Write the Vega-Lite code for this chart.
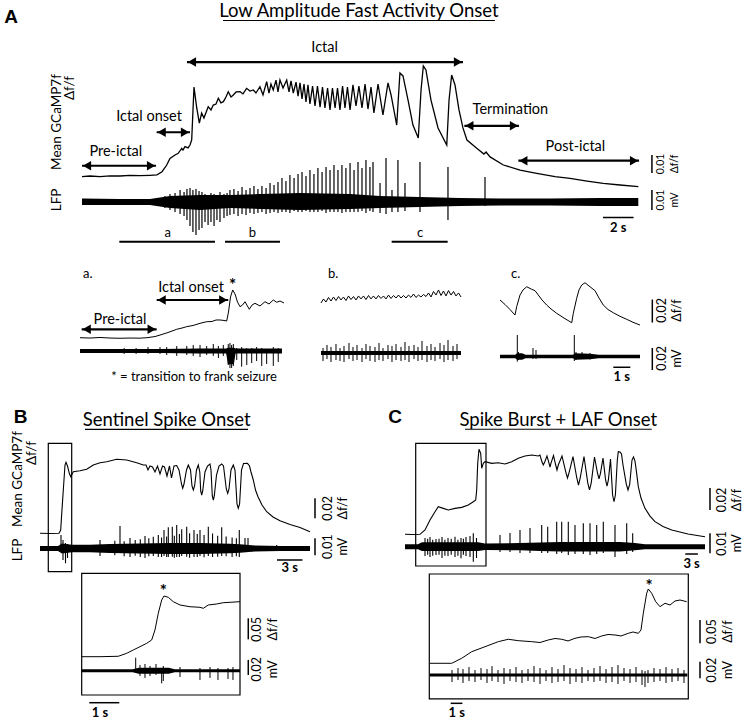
{
"$schema":"https://vega.github.io/schema/vega-lite/v6.json",
"padding":0,
"background":"white",
"spacing":0,
"bounds":"flush",
"config":{"view":{"stroke":null},"text":{"font":"Lato","color":"#000"},"line":{"color":"#000"},"rule":{"color":"#000"},"area":{"color":"#000"}},
"datasets":{
"Ag":[{"t":0,"v":-0.0003},{"t":0.52,"v":0},{"t":1.18,"v":-0.0003},{"t":1.83,"v":0.0001},{"t":2.48,"v":0},{"t":3.14,"v":0.0003},{"t":3.79,"v":0.0002},{"t":4.44,"v":0.0004},{"t":4.9,"v":0.0006},{"t":5.23,"v":0.0024},{"t":5.54,"v":0.0061},{"t":5.75,"v":0.0098},{"t":6.08,"v":0.0117},{"t":6.29,"v":0.0126},{"t":6.52,"v":0.0154},{"t":6.6,"v":0.0144},{"t":6.73,"v":0.0163},{"t":6.93,"v":0.0156},{"t":7.06,"v":0.0172},{"t":7.17,"v":0.02},{"t":7.32,"v":0.0494},{"t":7.5,"v":0.0378},{"t":7.67,"v":0.0294},{"t":7.82,"v":0.035},{"t":7.97,"v":0.0322},{"t":8.25,"v":0.0385},{"t":8.43,"v":0.0367},{"t":8.58,"v":0.0394},{"t":8.76,"v":0.04},{"t":8.91,"v":0.0432},{"t":9.08,"v":0.0406},{"t":9.24,"v":0.0413},{"t":9.41,"v":0.0439},{"t":9.56,"v":0.0468},{"t":9.74,"v":0.0439},{"t":9.89,"v":0.045},{"t":10.07,"v":0.0467},{"t":10.33,"v":0.0468},{"t":10.52,"v":0.0456},{"t":10.76,"v":0.0487},{"t":10.98,"v":0.0472},{"t":11.2,"v":0.0478},{"t":11.37,"v":0.0461},{"t":11.63,"v":0.0496},{"t":11.83,"v":0.045},{"t":12.07,"v":0.0524},{"t":12.22,"v":0.0461},{"t":12.35,"v":0.0511},{"t":12.5,"v":0.0478},{"t":12.68,"v":0.0533},{"t":12.81,"v":0.0467},{"t":12.94,"v":0.0533},{"t":13.14,"v":0.0489},{"t":13.38,"v":0.0533},{"t":13.53,"v":0.0467},{"t":13.66,"v":0.0528},{"t":13.81,"v":0.0461},{"t":13.99,"v":0.0522},{"t":14.12,"v":0.0444},{"t":14.25,"v":0.0517},{"t":14.38,"v":0.0428},{"t":14.51,"v":0.0511},{"t":14.64,"v":0.0411},{"t":14.77,"v":0.0506},{"t":14.9,"v":0.04},{"t":15.07,"v":0.05},{"t":15.23,"v":0.0389},{"t":15.39,"v":0.05},{"t":15.56,"v":0.0383},{"t":15.72,"v":0.0494},{"t":15.88,"v":0.0378},{"t":16.05,"v":0.0489},{"t":16.21,"v":0.0367},{"t":16.37,"v":0.0489},{"t":16.54,"v":0.0378},{"t":16.7,"v":0.0489},{"t":16.86,"v":0.0367},{"t":17.03,"v":0.05},{"t":17.19,"v":0.0378},{"t":17.35,"v":0.0494},{"t":17.52,"v":0.0367},{"t":17.71,"v":0.0506},{"t":17.91,"v":0.0389},{"t":18.1,"v":0.05},{"t":18.3,"v":0.0378},{"t":18.5,"v":0.0511},{"t":18.69,"v":0.0372},{"t":18.89,"v":0.0494},{"t":19.08,"v":0.035},{"t":19.35,"v":0.0511},{"t":19.67,"v":0.0339},{"t":20,"v":0.0517},{"t":20.2,"v":0.045},{"t":20.57,"v":0.0283},{"t":20.78,"v":0.0572},{"t":20.98,"v":0.0556},{"t":21.31,"v":0.0422},{"t":21.63,"v":0.0283},{"t":21.98,"v":0.0211},{"t":22.16,"v":0.0478},{"t":22.31,"v":0.0611},{"t":22.48,"v":0.0589},{"t":22.81,"v":0.0422},{"t":23.27,"v":0.0267},{"t":23.84,"v":0.0172},{"t":23.99,"v":0.0422},{"t":24.16,"v":0.0561},{"t":24.38,"v":0.0506},{"t":24.64,"v":0.0367},{"t":24.9,"v":0.0267},{"t":25.16,"v":0.02},{"t":25.8,"v":0.0154},{"t":26.27,"v":0.0122},{"t":26.41,"v":0.0133},{"t":26.67,"v":0.0106},{"t":27.54,"v":0.0061},{"t":28.63,"v":0.0033},{"t":29.72,"v":0.0015},{"t":30.92,"v":-0.0003},{"t":31.9,"v":-0.0013},{"t":33.01,"v":-0.0028},{"t":34.07,"v":-0.0041},{"t":35.16,"v":-0.005},{"t":36.36,"v":-0.0059}],
"Al_env":[{"t":0,"hi":0.00175,"lo":-0.0015},{"t":2.48,"hi":0.0015,"lo":-0.0015},{"t":4.44,"hi":0.0015,"lo":-0.0015},{"t":5.75,"hi":0.003,"lo":-0.003},{"t":7.71,"hi":0.0035,"lo":-0.004},{"t":9.67,"hi":0.0035,"lo":-0.003},{"t":11.63,"hi":0.004,"lo":-0.0035},{"t":14.25,"hi":0.0045,"lo":-0.004},{"t":17.52,"hi":0.004,"lo":-0.0035},{"t":19.48,"hi":0.003,"lo":-0.003},{"t":22.09,"hi":0.0025,"lo":-0.0025},{"t":24.71,"hi":0.002,"lo":-0.002},{"t":27.32,"hi":0.00175,"lo":-0.00175},{"t":30.59,"hi":0.00175,"lo":-0.00175},{"t":33.86,"hi":0.002,"lo":-0.002},{"t":36.36,"hi":0.002,"lo":-0.002}],
"Al_spk":[{"t":5.42,"hi":0.003,"lo":-0.003},{"t":5.75,"hi":0.004,"lo":-0.004},{"t":6.08,"hi":0.0045,"lo":-0.005},{"t":6.41,"hi":0.006,"lo":-0.006},{"t":6.67,"hi":0.005,"lo":-0.007},{"t":6.86,"hi":0.0065,"lo":-0.009},{"t":7.06,"hi":0.007,"lo":-0.012},{"t":7.25,"hi":0.006,"lo":-0.015},{"t":7.45,"hi":0.0065,"lo":-0.0165},{"t":7.65,"hi":0.0055,"lo":-0.014},{"t":7.84,"hi":0.005,"lo":-0.013},{"t":8.04,"hi":0.004,"lo":-0.01},{"t":8.24,"hi":0.0035,"lo":-0.0115},{"t":8.43,"hi":0.0045,"lo":-0.01},{"t":8.63,"hi":0.004,"lo":-0.012},{"t":8.82,"hi":0.0035,"lo":-0.009},{"t":9.02,"hi":0.005,"lo":-0.01},{"t":9.28,"hi":0.004,"lo":-0.008},{"t":9.48,"hi":0.0045,"lo":-0.007},{"t":9.67,"hi":0.006,"lo":-0.0065},{"t":9.93,"hi":0.0065,"lo":-0.006},{"t":10.2,"hi":0.0055,"lo":-0.007},{"t":10.46,"hi":0.0075,"lo":-0.006},{"t":10.72,"hi":0.006,"lo":-0.0065},{"t":10.98,"hi":0.007,"lo":-0.0055},{"t":11.24,"hi":0.008,"lo":-0.006},{"t":11.5,"hi":0.0065,"lo":-0.0055},{"t":11.76,"hi":0.008,"lo":-0.005},{"t":12.03,"hi":0.007,"lo":-0.006},{"t":12.29,"hi":0.0095,"lo":-0.0055},{"t":12.55,"hi":0.0085,"lo":-0.005},{"t":12.81,"hi":0.01,"lo":-0.0055},{"t":13.07,"hi":0.012,"lo":-0.005},{"t":13.33,"hi":0.0105,"lo":-0.005},{"t":13.59,"hi":0.0135,"lo":-0.0055},{"t":13.86,"hi":0.012,"lo":-0.0045},{"t":14.12,"hi":0.014,"lo":-0.005},{"t":14.38,"hi":0.015,"lo":-0.005},{"t":14.64,"hi":0.013,"lo":-0.0045},{"t":14.9,"hi":0.016,"lo":-0.005},{"t":15.16,"hi":0.014,"lo":-0.005},{"t":15.42,"hi":0.017,"lo":-0.005},{"t":15.69,"hi":0.015,"lo":-0.0045},{"t":15.95,"hi":0.0175,"lo":-0.0055},{"t":16.21,"hi":0.016,"lo":-0.005},{"t":16.47,"hi":0.0185,"lo":-0.005},{"t":16.73,"hi":0.016,"lo":-0.005},{"t":16.99,"hi":0.0185,"lo":-0.0055},{"t":17.25,"hi":0.017,"lo":-0.005},{"t":17.52,"hi":0.0195,"lo":-0.005},{"t":17.78,"hi":0.016,"lo":-0.005},{"t":18.04,"hi":0.02,"lo":-0.005},{"t":18.3,"hi":0.017,"lo":-0.0045},{"t":18.56,"hi":0.021,"lo":-0.0055},{"t":18.82,"hi":0.0175,"lo":-0.0045},{"t":19.02,"hi":0.02,"lo":-0.005},{"t":19.48,"hi":0.0095,"lo":-0.0055},{"t":19.87,"hi":0.022,"lo":-0.006},{"t":20.26,"hi":0.006,"lo":-0.005},{"t":20.65,"hi":0.021,"lo":-0.005},{"t":21.11,"hi":0.0095,"lo":-0.0045},{"t":22.09,"hi":0.02,"lo":-0.005},{"t":23.92,"hi":0.0175,"lo":-0.009},{"t":26.34,"hi":0.0125,"lo":-0.002}],
"A_arrows":[{"t1":6.86,"t2":24.9,"v":0.0633},{"t1":0,"t2":4.84,"v":0.0057},{"t1":4.88,"t2":7.06,"v":0.0243},{"t1":24.99,"t2":28.56,"v":0.0279},{"t1":28.52,"t2":36.41,"v":0.0085}],
"A_labels":[{"t":15.86,"v":0.0711,"label":"Ictal"},{"t":2.21,"v":0.0135,"label":"Pre-ictal"},{"t":4.38,"v":0.0326,"label":"Ictal onset"},{"t":28.0,"v":0.0367,"label":"Termination"},{"t":32.25,"v":0.0163,"label":"Post-ictal"}],
"A_title":[{"t":18.1,"v":0.0914,"label":"Low Amplitude Fast Activity Onset"}],
"A_letter":[{"t":-4.64,"v":0.0886,"label":"A"}],
"A_uline":[{"t1":9.22,"t2":26.99,"v":0.0864}],
"A_segs":[{"t1":2.44,"t2":8.69,"v":-0.0365,"tl":5.6,"vl":-0.0317,"label":"a"},{"t1":9.35,"t2":12.94,"v":-0.0365,"tl":11.14,"vl":-0.0317,"label":"b"},{"t1":20.24,"t2":23.9,"v":-0.0365,"tl":22.1,"vl":-0.0317,"label":"c"}],
"A_rotL":[{"t":-1.63,"v":0.03,"label":"Mean GCaMP7f"},{"t":-0.78,"v":0.0489,"label":"Δf/f"},{"t":-1.63,"v":-0.0133,"label":"LFP"}],
"A_sbg":[{"t":37.25,"v1":0.00167,"v2":0.01167,"tn":37.84,"tu":38.76,"vm":0.0067,"num":"0.01","unit":"Δf/f"}],
"A_sbl":[{"t":37.25,"v1":-0.004,"v2":0.006,"tn":37.84,"tu":38.76,"vm":0.001,"num":"0.01","unit":"mV"}],
"A_tb":[{"t1":34.05,"t2":36.05,"v":-0.00775,"tl":35.05,"vl":-0.013,"label":"2 s"}],
"Iag":[{"t":0,"v":0.002},{"t":0.588,"v":0.0017},{"t":1.176,"v":0.0022},{"t":1.765,"v":0.0017},{"t":2.353,"v":0.0015},{"t":2.941,"v":0.0017},{"t":3.529,"v":0.0016},{"t":3.941,"v":0.002},{"t":4.412,"v":0.003},{"t":4.706,"v":0.0043},{"t":5.176,"v":0.0065},{"t":5.688,"v":0.0093},{"t":6.0,"v":0.0104},{"t":6.276,"v":0.0116},{"t":6.647,"v":0.0126},{"t":7.059,"v":0.0145},{"t":7.453,"v":0.0159},{"t":7.765,"v":0.0161},{"t":8.0,"v":0.0174},{"t":8.235,"v":0.0174},{"t":8.471,"v":0.017},{"t":8.629,"v":0.0165},{"t":8.735,"v":0.0243},{"t":8.853,"v":0.0374},{"t":8.982,"v":0.0435},{"t":9.118,"v":0.04},{"t":9.265,"v":0.033},{"t":9.412,"v":0.029},{"t":9.559,"v":0.0304},{"t":9.706,"v":0.0333},{"t":9.959,"v":0.0267},{"t":10.118,"v":0.0304},{"t":10.294,"v":0.0319},{"t":10.588,"v":0.0296},{"t":10.882,"v":0.0333},{"t":11.118,"v":0.0313},{"t":11.371,"v":0.0348},{"t":11.571,"v":0.0328},{"t":11.765,"v":0.0339},{"t":12.0,"v":0.0322}],
"Ia_arrows":[{"t1":0.1,"t2":4.51,"v":0.0093},{"t1":4.51,"t2":8.72,"v":0.0348}],
"Ia_labels":[{"t":2.353,"v":0.0174,"label":"Pre-ictal"},{"t":6.53,"v":0.0452,"label":"Ictal onset"}],
"Ia_cap":[{"t":6.71,"v":-0.0324,"label":"* = transition to frank seizure"}],
"Ia_letter":[{"t":0.176,"v":0.0574,"label":"a."}],
"Ia_star":[{"t":8.98,"v":0.0507,"label":"*"}],
"Ial_env":[{"t":0,"hi":0.0018,"lo":-0.0018},{"t":4.7,"hi":0.0018,"lo":-0.0018},{"t":7.0,"hi":0.0023,"lo":-0.0023},{"t":8.6,"hi":0.0023,"lo":-0.0023},{"t":8.7,"hi":0.003,"lo":-0.012},{"t":9.05,"hi":0.003,"lo":-0.012},{"t":9.15,"hi":0.0023,"lo":-0.0023},{"t":11.88,"hi":0.0023,"lo":-0.0023}],
"Ial_spk":[{"t":2.6,"hi":0.0027,"lo":-0.0027},{"t":3.3,"hi":0.0027,"lo":-0.0027},{"t":4.0,"hi":0.0036,"lo":-0.0027},{"t":4.706,"hi":0.0036,"lo":-0.0027},{"t":5.1,"hi":0.0036,"lo":-0.0036},{"t":5.69,"hi":0.0045,"lo":-0.0045},{"t":6.28,"hi":0.0045,"lo":-0.0036},{"t":6.66,"hi":0.0055,"lo":-0.0045},{"t":7.06,"hi":0.0055,"lo":-0.0055},{"t":7.45,"hi":0.0045,"lo":-0.0036},{"t":7.84,"hi":0.0064,"lo":-0.0045},{"t":8.14,"hi":0.0045,"lo":-0.0064},{"t":8.43,"hi":0.0055,"lo":-0.0045},{"t":8.72,"hi":0.0064,"lo":-0.0127},{"t":8.82,"hi":0.0073,"lo":-0.0155},{"t":8.92,"hi":0.0055,"lo":-0.0155},{"t":9.02,"hi":0.0064,"lo":-0.0136},{"t":9.22,"hi":0.0027,"lo":-0.0082},{"t":9.51,"hi":0.0036,"lo":-0.0143},{"t":9.81,"hi":0.0027,"lo":-0.0127},{"t":10.1,"hi":0.0027,"lo":-0.0109},{"t":10.39,"hi":0.0036,"lo":-0.0091},{"t":10.69,"hi":0.0027,"lo":-0.0136},{"t":10.98,"hi":0.0018,"lo":-0.0118},{"t":11.37,"hi":0.0036,"lo":-0.0136},{"t":11.66,"hi":0.0027,"lo":-0.01}],
"Ibg":[{"t":0,"v":0.0322},{"t":0.147,"v":0.0357},{"t":0.294,"v":0.033},{"t":0.441,"v":0.037},{"t":0.588,"v":0.0339},{"t":0.735,"v":0.0374},{"t":0.882,"v":0.0343},{"t":1.029,"v":0.0378},{"t":1.176,"v":0.0348},{"t":1.324,"v":0.0374},{"t":1.471,"v":0.0343},{"t":1.618,"v":0.0383},{"t":1.765,"v":0.0352},{"t":1.912,"v":0.0378},{"t":2.059,"v":0.0348},{"t":2.206,"v":0.0383},{"t":2.353,"v":0.0357},{"t":2.5,"v":0.0383},{"t":2.647,"v":0.0352},{"t":2.794,"v":0.0387},{"t":2.941,"v":0.0357},{"t":3.088,"v":0.0383},{"t":3.235,"v":0.0357},{"t":3.382,"v":0.0387},{"t":3.529,"v":0.0361},{"t":3.676,"v":0.0383},{"t":3.824,"v":0.0357},{"t":3.971,"v":0.0391},{"t":4.118,"v":0.0361},{"t":4.265,"v":0.0387},{"t":4.412,"v":0.0365},{"t":4.559,"v":0.0391},{"t":4.706,"v":0.0365},{"t":4.853,"v":0.0387},{"t":5.0,"v":0.0365},{"t":5.147,"v":0.0391},{"t":5.294,"v":0.037},{"t":5.441,"v":0.04},{"t":5.588,"v":0.037},{"t":5.735,"v":0.0391},{"t":5.882,"v":0.0374},{"t":6.029,"v":0.0396},{"t":6.176,"v":0.0378},{"t":6.324,"v":0.0409},{"t":6.471,"v":0.0374},{"t":6.618,"v":0.0422},{"t":6.765,"v":0.0391},{"t":6.912,"v":0.0435},{"t":7.059,"v":0.0387},{"t":7.206,"v":0.0426},{"t":7.353,"v":0.0383},{"t":7.5,"v":0.043},{"t":7.647,"v":0.0391},{"t":7.794,"v":0.0422},{"t":7.941,"v":0.0383},{"t":8.088,"v":0.0409},{"t":8.235,"v":0.0374}],
"Ib_letter":[{"t":0.41,"v":0.0574,"label":"b."}],
"Ibl_env":[{"t":0,"hi":0.0018,"lo":-0.0018},{"t":8.235,"hi":0.0018,"lo":-0.0018}],
"Ibl_spk":[{"t":0.118,"hi":0.0045,"lo":-0.0073},{"t":0.353,"hi":0.0073,"lo":-0.0055},{"t":0.588,"hi":0.0055,"lo":-0.0082},{"t":0.882,"hi":0.0082,"lo":-0.0064},{"t":1.118,"hi":0.0045,"lo":-0.0073},{"t":1.353,"hi":0.0064,"lo":-0.0082},{"t":1.647,"hi":0.0091,"lo":-0.0055},{"t":1.882,"hi":0.0055,"lo":-0.0073},{"t":2.118,"hi":0.0073,"lo":-0.0064},{"t":2.412,"hi":0.0045,"lo":-0.0082},{"t":2.647,"hi":0.0082,"lo":-0.0055},{"t":2.882,"hi":0.0064,"lo":-0.0073},{"t":3.176,"hi":0.0055,"lo":-0.0082},{"t":3.412,"hi":0.0091,"lo":-0.0064},{"t":3.647,"hi":0.0045,"lo":-0.0073},{"t":3.941,"hi":0.0073,"lo":-0.0055},{"t":4.176,"hi":0.0064,"lo":-0.0082},{"t":4.412,"hi":0.0082,"lo":-0.0064},{"t":4.706,"hi":0.0055,"lo":-0.0073},{"t":4.941,"hi":0.01,"lo":-0.0064},{"t":5.176,"hi":0.0064,"lo":-0.0082},{"t":5.471,"hi":0.0073,"lo":-0.0055},{"t":5.706,"hi":0.0055,"lo":-0.0073},{"t":5.941,"hi":0.0109,"lo":-0.0064},{"t":6.235,"hi":0.0064,"lo":-0.0082},{"t":6.471,"hi":0.0082,"lo":-0.0064},{"t":6.706,"hi":0.0055,"lo":-0.0073},{"t":7.0,"hi":0.0091,"lo":-0.0055},{"t":7.235,"hi":0.0073,"lo":-0.0082},{"t":7.471,"hi":0.0118,"lo":-0.0064},{"t":7.765,"hi":0.0064,"lo":-0.0073},{"t":8.0,"hi":0.0082,"lo":-0.0055}],
"Icg":[{"t":0,"v":0.0348},{"t":0.294,"v":0.0309},{"t":0.588,"v":0.0265},{"t":0.882,"v":0.0217},{"t":0.982,"v":0.029},{"t":1.176,"v":0.0391},{"t":1.353,"v":0.0435},{"t":1.571,"v":0.0463},{"t":1.865,"v":0.0441},{"t":2.059,"v":0.0429},{"t":2.253,"v":0.0391},{"t":2.471,"v":0.0348},{"t":2.747,"v":0.0304},{"t":3.0,"v":0.027},{"t":3.335,"v":0.0232},{"t":3.765,"v":0.0191},{"t":4.218,"v":0.015},{"t":4.312,"v":0.0232},{"t":4.512,"v":0.0363},{"t":4.647,"v":0.0435},{"t":4.806,"v":0.0478},{"t":5.0,"v":0.0498},{"t":5.294,"v":0.0463},{"t":5.588,"v":0.0429},{"t":5.824,"v":0.0365},{"t":6.076,"v":0.0304},{"t":6.353,"v":0.0265},{"t":6.665,"v":0.0237},{"t":7.059,"v":0.0206},{"t":7.453,"v":0.018},{"t":7.824,"v":0.0154},{"t":8.235,"v":0.013}],
"Ic_letter":[{"t":0.647,"v":0.0574,"label":"c."}],
"Ic_sbg":[{"t":8.96,"v1":0.0152,"v2":0.0352,"tn":9.51,"tu":10.39,"vm":0.0257,"num":"0.02","unit":"Δf/f"}],
"Icl_env":[{"t":0,"hi":0.0015,"lo":-0.0015},{"t":0.9,"hi":0.0015,"lo":-0.0015},{"t":1.0,"hi":0.003,"lo":-0.003},{"t":1.3,"hi":0.003,"lo":-0.003},{"t":1.5,"hi":0.0015,"lo":-0.0015},{"t":4.3,"hi":0.0015,"lo":-0.0015},{"t":4.4,"hi":0.003,"lo":-0.003},{"t":5.3,"hi":0.0025,"lo":-0.0025},{"t":5.8,"hi":0.0015,"lo":-0.0015},{"t":8.235,"hi":0.0015,"lo":-0.0015}],
"Icl_spk":[{"t":1.018,"hi":0.0195,"lo":-0.0047},{"t":1.088,"hi":0.0041,"lo":-0.0032},{"t":1.941,"hi":0.0077,"lo":-0.0023},{"t":2.118,"hi":0.0059,"lo":-0.0023},{"t":4.371,"hi":0.0195,"lo":-0.0041},{"t":4.471,"hi":0.0041,"lo":-0.0032},{"t":4.824,"hi":0.0041,"lo":-0.0023},{"t":5.294,"hi":0.0032,"lo":-0.0027}],
"Ic_sbl":[{"t":8.96,"v1":-0.0123,"v2":0.0077,"tn":9.51,"tu":10.39,"vm":-0.0018,"num":"0.02","unit":"mV"}],
"Ic_tb":[{"t1":6.665,"t2":7.665,"v":-0.0098,"tl":7.165,"vl":-0.0184,"label":"1 s"}],
"Bg":[{"t":0,"v":0},{"t":1.176,"v":-0.0002},{"t":2.235,"v":0},{"t":2.435,"v":0.0033},{"t":2.553,"v":0.0193},{"t":2.741,"v":0.0433},{"t":2.941,"v":0.0683},{"t":3.059,"v":0.071},{"t":3.235,"v":0.0673},{"t":3.447,"v":0.06},{"t":3.612,"v":0.0566},{"t":3.918,"v":0.0616},{"t":4.706,"v":0.0626},{"t":5.494,"v":0.064},{"t":6.271,"v":0.0683},{"t":7.059,"v":0.0706},{"t":7.847,"v":0.0716},{"t":9.024,"v":0.074},{"t":10.2,"v":0.0733},{"t":11.376,"v":0.0706},{"t":12.153,"v":0.0683},{"t":12.471,"v":0.0683},{"t":12.706,"v":0.0633},{"t":12.941,"v":0.0673},{"t":13.235,"v":0.0663},{"t":13.529,"v":0.0613},{"t":13.824,"v":0.0673},{"t":14.118,"v":0.0593},{"t":14.412,"v":0.0673},{"t":14.647,"v":0.0663},{"t":14.941,"v":0.0573},{"t":15.235,"v":0.0673},{"t":15.471,"v":0.0553},{"t":15.765,"v":0.0673},{"t":16.082,"v":0.0678},{"t":16.353,"v":0.0633},{"t":16.647,"v":0.0493},{"t":16.788,"v":0.045},{"t":16.941,"v":0.0493},{"t":17.235,"v":0.0633},{"t":17.447,"v":0.0683},{"t":17.706,"v":0.0633},{"t":17.882,"v":0.0473},{"t":18.035,"v":0.0433},{"t":18.188,"v":0.0473},{"t":18.412,"v":0.0633},{"t":18.624,"v":0.0683},{"t":18.8,"v":0.0613},{"t":18.906,"v":0.0423},{"t":19.024,"v":0.0383},{"t":19.141,"v":0.0423},{"t":19.412,"v":0.0613},{"t":19.706,"v":0.0673},{"t":20.0,"v":0.0693},{"t":20.118,"v":0.0633},{"t":20.271,"v":0.0373},{"t":20.388,"v":0.0333},{"t":20.506,"v":0.0373},{"t":20.765,"v":0.0583},{"t":21.059,"v":0.0673},{"t":21.376,"v":0.0693},{"t":21.588,"v":0.0673},{"t":21.918,"v":0.0443},{"t":22.082,"v":0.04},{"t":22.235,"v":0.0443},{"t":22.471,"v":0.0633},{"t":22.741,"v":0.0683},{"t":22.941,"v":0.0633},{"t":23.176,"v":0.0293},{"t":23.329,"v":0.025},{"t":23.482,"v":0.0293},{"t":23.706,"v":0.0633},{"t":23.941,"v":0.0698},{"t":24.412,"v":0.07},{"t":24.647,"v":0.0673},{"t":24.824,"v":0.0613},{"t":25.094,"v":0.0533},{"t":25.353,"v":0.0433},{"t":25.647,"v":0.0366},{"t":26.118,"v":0.0283},{"t":26.671,"v":0.0216},{"t":27.412,"v":0.0163},{"t":28.235,"v":0.0126},{"t":29.412,"v":0.0088},{"t":30.588,"v":0.0058},{"t":31.765,"v":0.0016}],
"B_letter":[{"t":-2.294,"v":0.1168,"label":"B"}],
"B_title":[{"t":14.906,"v":0.1133,"label":"Sentinel Spike Onset"}],
"B_uline":[{"t1":5.294,"t2":24.471,"v":0.104}],
"B_box":[{"t1":0.976,"t2":3.729,"v1":-0.0384,"v2":0.09}],
"B_sbg":[{"t":32.353,"v1":0.015,"v2":0.035,"tn":33.918,"tu":35.682,"vm":0.025,"num":"0.02","unit":"Δf/f"}],
"B_rotL":[{"t":-2.553,"v":0.0543,"label":"Mean GCaMP7f"},{"t":-0.976,"v":0.0803,"label":"Δf/f"},{"t":-2.553,"v":-0.0167,"label":"LFP"}],
"Bl_env":[{"t":0,"hi":0.0015,"lo":-0.0015},{"t":2.118,"hi":0.0015,"lo":-0.0015},{"t":2.588,"hi":0.0029,"lo":-0.0029},{"t":3.765,"hi":0.0022,"lo":-0.0022},{"t":5.882,"hi":0.0022,"lo":-0.0022},{"t":8.235,"hi":0.0026,"lo":-0.0026},{"t":11.765,"hi":0.003,"lo":-0.003},{"t":15.294,"hi":0.0032,"lo":-0.0032},{"t":18.824,"hi":0.0032,"lo":-0.0032},{"t":22.353,"hi":0.0028,"lo":-0.0028},{"t":23.529,"hi":0.0025,"lo":-0.0025},{"t":25.294,"hi":0.0017,"lo":-0.0017},{"t":28.235,"hi":0.0015,"lo":-0.0015},{"t":31.765,"hi":0.0015,"lo":-0.0015}],
"Bl_spk":[{"t":2.471,"hi":0.0079,"lo":-0.0021},{"t":2.706,"hi":0.005,"lo":-0.0068},{"t":3.0,"hi":0.0032,"lo":-0.0087},{"t":3.235,"hi":0.0026,"lo":-0.0056},{"t":7.059,"hi":0.005,"lo":-0.0044},{"t":8.8,"hi":0.0045,"lo":-0.004},{"t":9.412,"hi":0.0132,"lo":-0.0026},{"t":9.9,"hi":0.0042,"lo":-0.0045},{"t":10.588,"hi":0.0062,"lo":-0.005},{"t":11.2,"hi":0.005,"lo":-0.0042},{"t":11.8,"hi":0.0055,"lo":-0.005},{"t":12.353,"hi":0.0074,"lo":-0.0056},{"t":12.8,"hi":0.006,"lo":-0.0045},{"t":13.329,"hi":0.0069,"lo":-0.0044},{"t":13.918,"hi":0.0079,"lo":-0.005},{"t":14.3,"hi":0.0065,"lo":-0.005},{"t":14.588,"hi":0.0109,"lo":-0.0044},{"t":14.9,"hi":0.007,"lo":-0.005},{"t":15.094,"hi":0.0125,"lo":-0.005},{"t":15.565,"hi":0.0128,"lo":-0.0048},{"t":15.8,"hi":0.0075,"lo":-0.0055},{"t":16.082,"hi":0.0138,"lo":-0.005},{"t":16.4,"hi":0.0085,"lo":-0.005},{"t":16.671,"hi":0.0113,"lo":-0.0044},{"t":17.259,"hi":0.0128,"lo":-0.0048},{"t":17.6,"hi":0.009,"lo":-0.0055},{"t":18.118,"hi":0.0109,"lo":-0.005},{"t":18.5,"hi":0.0085,"lo":-0.005},{"t":18.824,"hi":0.0109,"lo":-0.0044},{"t":19.3,"hi":0.008,"lo":-0.0052},{"t":19.8,"hi":0.0128,"lo":-0.0044},{"t":20.3,"hi":0.0088,"lo":-0.005},{"t":20.9,"hi":0.0075,"lo":-0.0048},{"t":21.376,"hi":0.0125,"lo":-0.0044},{"t":21.9,"hi":0.007,"lo":-0.0045},{"t":22.6,"hi":0.0065,"lo":-0.005},{"t":23.1,"hi":0.006,"lo":-0.0045},{"t":23.447,"hi":0.0109,"lo":-0.005},{"t":24.118,"hi":0.0062,"lo":-0.0021},{"t":24.471,"hi":0.0062,"lo":-0.0021},{"t":27.847,"hi":0.0021,"lo":-0.0015}],
"B_sbl":[{"t":32.353,"v1":-0.004,"v2":0.006,"tn":33.918,"tu":35.682,"vm":0.0011,"num":"0.01","unit":"mV"}],
"B_tb":[{"t1":27.88,"t2":30.88,"v":-0.00676,"tl":29.38,"vl":-0.01165,"label":"3 s"}],
"Big":[{"t":0,"v":0},{"t":0.61,"v":0},{"t":1.22,"v":0.001},{"t":1.5,"v":0.0081},{"t":1.72,"v":0.016},{"t":1.943,"v":0.0238},{"t":2.167,"v":0.0319},{"t":2.333,"v":0.0398},{"t":2.443,"v":0.0636},{"t":2.553,"v":0.1033},{"t":2.667,"v":0.135},{"t":2.743,"v":0.1445},{"t":2.887,"v":0.1414},{"t":3.053,"v":0.131},{"t":3.277,"v":0.1231},{"t":3.61,"v":0.119},{"t":3.943,"v":0.1176},{"t":4.053,"v":0.1152},{"t":4.22,"v":0.1231},{"t":4.5,"v":0.1255},{"t":4.72,"v":0.1286},{"t":4.943,"v":0.1295},{"t":5.277,"v":0.131}],
"Bi_box":[{"t1":0,"t2":5.277,"v1":-0.0912,"v2":0.1986}],
"Bi_star":[{"t":2.72,"v":0.1629,"label":"*"}],
"Bi_sbg":[{"t":5.553,"v1":0.0414,"v2":0.0914,"tn":5.833,"tu":6.367,"vm":0.0652,"num":"0.05","unit":"Δf/f"}],
"Bil_env":[{"t":0,"hi":0.002,"lo":-0.002},{"t":1.7,"hi":0.002,"lo":-0.002},{"t":1.9,"hi":0.004,"lo":-0.004},{"t":2.9,"hi":0.004,"lo":-0.004},{"t":3.1,"hi":0.002,"lo":-0.002},{"t":5.277,"hi":0.002,"lo":-0.002}],
"Bil_spk":[{"t":1.8,"hi":0.0173,"lo":-0.0017},{"t":1.943,"hi":0.0076,"lo":-0.0071},{"t":2.11,"hi":0.0089,"lo":-0.0097},{"t":2.277,"hi":0.0063,"lo":-0.0071},{"t":2.477,"hi":0.0089,"lo":-0.0057},{"t":2.667,"hi":0.0036,"lo":-0.0168},{"t":2.72,"hi":0.0063,"lo":-0.0137},{"t":3.277,"hi":0.0049,"lo":-0.0084},{"t":3.943,"hi":0.0036,"lo":-0.0124},{"t":4.277,"hi":0.0049,"lo":-0.0097},{"t":4.543,"hi":0.0036,"lo":-0.0124},{"t":4.877,"hi":0.0036,"lo":-0.0111},{"t":5.043,"hi":0.0049,"lo":-0.0124}],
"Bi_sbl":[{"t":5.553,"v1":-0.0057,"v2":0.0143,"tn":5.833,"tu":6.367,"vm":0.0019,"num":"0.02","unit":"mV"}],
"Bi_tb":[{"t1":0.253,"t2":1.253,"v":-0.0427,"tl":0.61,"vl":-0.0568,"label":"1 s"}],
"Cg":[{"t":0,"v":0},{"t":1.667,"v":-0.0002},{"t":3.571,"v":0},{"t":4.762,"v":0.0039},{"t":5.952,"v":0.013},{"t":7.143,"v":0.0205},{"t":7.929,"v":0.0251},{"t":9.119,"v":0.0236},{"t":10.31,"v":0.0221},{"t":11.905,"v":0.0236},{"t":13.5,"v":0.0245},{"t":15.071,"v":0.0266},{"t":16.262,"v":0.0296},{"t":16.833,"v":0.0312},{"t":17.071,"v":0.0403},{"t":17.31,"v":0.0645},{"t":17.619,"v":0.0773},{"t":18.024,"v":0.0736},{"t":18.262,"v":0.06},{"t":18.643,"v":0.0645},{"t":19.048,"v":0.066},{"t":20.643,"v":0.0645},{"t":22.214,"v":0.0651},{"t":23.81,"v":0.0639},{"t":25.405,"v":0.066},{"t":26.976,"v":0.0691},{"t":28.571,"v":0.0712},{"t":30.167,"v":0.0721},{"t":31.738,"v":0.0712},{"t":32.143,"v":0.0721},{"t":32.619,"v":0.0657},{"t":32.929,"v":0.063},{"t":33.262,"v":0.0657},{"t":33.81,"v":0.0712},{"t":34.286,"v":0.0648},{"t":34.524,"v":0.0612},{"t":34.762,"v":0.0648},{"t":35.357,"v":0.0716},{"t":35.881,"v":0.063},{"t":36.19,"v":0.0585},{"t":36.5,"v":0.063},{"t":37.381,"v":0.0712},{"t":38.286,"v":0.0566},{"t":38.69,"v":0.0512},{"t":39.095,"v":0.0566},{"t":40.0,"v":0.0707},{"t":40.905,"v":0.0512},{"t":41.31,"v":0.0448},{"t":41.714,"v":0.0512},{"t":42.619,"v":0.0707},{"t":43.524,"v":0.0466},{"t":43.929,"v":0.0403},{"t":44.333,"v":0.0466},{"t":45.119,"v":0.0703},{"t":45.833,"v":0.0557},{"t":46.19,"v":0.0503},{"t":46.548,"v":0.0557},{"t":47.143,"v":0.0694},{"t":47.762,"v":0.0494},{"t":48.095,"v":0.0439},{"t":48.429,"v":0.0494},{"t":48.929,"v":0.0685},{"t":49.429,"v":0.0357},{"t":49.762,"v":0.0296},{"t":50.095,"v":0.0357},{"t":50.548,"v":0.0675},{"t":50.786,"v":0.0751},{"t":51.19,"v":0.0748},{"t":51.548,"v":0.073},{"t":51.905,"v":0.063},{"t":52.69,"v":0.0457},{"t":53.095,"v":0.0403},{"t":53.5,"v":0.0457},{"t":54.048,"v":0.0675},{"t":54.405,"v":0.0703},{"t":54.762,"v":0.0666},{"t":55.119,"v":0.0566},{"t":55.548,"v":0.0433},{"t":56.19,"v":0.033},{"t":57.143,"v":0.0236},{"t":58.333,"v":0.0166},{"t":59.524,"v":0.0115},{"t":61.429,"v":0.0071},{"t":63.5,"v":0.0039},{"t":67.381,"v":0.0003},{"t":71.429,"v":-0.0022}],
"C_letter":[{"t":-2.381,"v":0.1071,"label":"C"}],
"C_title":[{"t":36.5,"v":0.1039,"label":"Spike Burst + LAF Onset"}],
"C_uline":[{"t1":14.286,"t2":58.738,"v":0.0955}],
"C_box":[{"t1":2.548,"t2":19.286,"v1":-0.0288,"v2":0.0827}],
"C_sbg":[{"t":72.619,"v1":0.0222,"v2":0.0422,"tn":75.405,"tu":78.976,"vm":0.0312,"num":"0.02","unit":"Δf/f"}],
"Cl_env":[{"t":0,"hi":0.00125,"lo":-0.00125},{"t":3.095,"hi":0.00125,"lo":-0.00125},{"t":4.048,"hi":0.0022,"lo":-0.0022},{"t":17.381,"hi":0.0022,"lo":-0.0022},{"t":19.048,"hi":0.0016,"lo":-0.0016},{"t":27.381,"hi":0.0018,"lo":-0.0018},{"t":32.143,"hi":0.0021,"lo":-0.0021},{"t":36.905,"hi":0.0024,"lo":-0.0024},{"t":51.19,"hi":0.0024,"lo":-0.0024},{"t":54.762,"hi":0.0018,"lo":-0.0018},{"t":57.143,"hi":0.00125,"lo":-0.00125},{"t":71.429,"hi":0.00125,"lo":-0.00125}],
"Cl_spk":[{"t":4.762,"hi":0.00435,"lo":-0.00465},{"t":5.4,"hi":0.004,"lo":-0.004},{"t":5.952,"hi":0.00485,"lo":-0.00515},{"t":6.6,"hi":0.0035,"lo":-0.0045},{"t":7.381,"hi":0.00385,"lo":-0.00415},{"t":8.1,"hi":0.004,"lo":-0.004},{"t":8.81,"hi":0.00485,"lo":-0.00565},{"t":9.5,"hi":0.0035,"lo":-0.0045},{"t":10.238,"hi":0.00435,"lo":-0.00465},{"t":11.0,"hi":0.004,"lo":-0.004},{"t":11.905,"hi":0.005,"lo":-0.00515},{"t":12.6,"hi":0.0035,"lo":-0.0045},{"t":13.333,"hi":0.00435,"lo":-0.0058},{"t":13.9,"hi":0.004,"lo":-0.004},{"t":14.524,"hi":0.00485,"lo":-0.00465},{"t":15.476,"hi":0.00535,"lo":-0.00515},{"t":16.262,"hi":0.0067,"lo":-0.0075},{"t":17.024,"hi":0.00435,"lo":-0.00565},{"t":22.619,"hi":0.00585,"lo":-0.00265},{"t":25.0,"hi":0.00685,"lo":-0.00265},{"t":27.381,"hi":0.00835,"lo":-0.00315},{"t":29.762,"hi":0.00935,"lo":-0.00315},{"t":32.548,"hi":0.01085,"lo":-0.00315},{"t":33.976,"hi":0.01,"lo":-0.00315},{"t":36.119,"hi":0.0125,"lo":-0.00365},{"t":37.31,"hi":0.0125,"lo":-0.00315},{"t":38.881,"hi":0.0125,"lo":-0.00415},{"t":40.476,"hi":0.01085,"lo":-0.00365},{"t":42.452,"hi":0.0117,"lo":-0.00365},{"t":44.048,"hi":0.0117,"lo":-0.00415},{"t":45.643,"hi":0.01085,"lo":-0.00365},{"t":47.214,"hi":0.0125,"lo":-0.00315},{"t":50.0,"hi":0.01085,"lo":-0.00515},{"t":52.786,"hi":0.0117,"lo":-0.00365},{"t":54.214,"hi":0.0067,"lo":-0.00265}],
"C_sbl":[{"t":72.619,"v1":-0.0033,"v2":0.0067,"tn":75.405,"tu":78.976,"vm":0.0017,"num":"0.01","unit":"mV"}],
"C_tb":[{"t1":66.738,"t2":69.738,"v":-0.00365,"tl":68.238,"vl":-0.00865,"label":"3 s"}],
"Cig":[{"t":0,"v":0},{"t":0.855,"v":0},{"t":1.855,"v":0},{"t":2.709,"v":0.0107},{"t":3.564,"v":0.0248},{"t":4.701,"v":0.0355},{"t":5.838,"v":0.0463},{"t":6.692,"v":0.0514},{"t":7.547,"v":0.0484},{"t":8.692,"v":0.0463},{"t":9.402,"v":0.0445},{"t":10.111,"v":0.0499},{"t":10.684,"v":0.0531},{"t":11.256,"v":0.0514},{"t":11.795,"v":0.0478},{"t":12.393,"v":0.0535},{"t":12.906,"v":0.0563},{"t":13.53,"v":0.057},{"t":14.103,"v":0.0531},{"t":14.675,"v":0.0585},{"t":15.214,"v":0.0617},{"t":15.812,"v":0.0606},{"t":16.325,"v":0.0585},{"t":16.949,"v":0.0642},{"t":17.35,"v":0.067},{"t":17.803,"v":0.0642},{"t":18.034,"v":0.0713},{"t":18.231,"v":0.1071},{"t":18.521,"v":0.1499},{"t":18.658,"v":0.1591},{"t":18.949,"v":0.1499},{"t":19.291,"v":0.1319},{"t":19.658,"v":0.1212},{"t":20.085,"v":0.1285},{"t":20.513,"v":0.1248},{"t":20.94,"v":0.1334},{"t":21.368,"v":0.1355},{"t":21.94,"v":0.1319}],
"Ci_box":[{"t1":-0.06,"t2":22.077,"v1":-0.0764,"v2":0.1912}],
"Ci_star":[{"t":18.718,"v":0.1726,"label":"*"}],
"Ci_sbg":[{"t":23.077,"v1":0.0428,"v2":0.0928,"tn":24.077,"tu":25.496,"vm":0.0677,"num":"0.05","unit":"Δf/f"}],
"Cil_env":[{"t":0,"hi":0.0018,"lo":-0.0018},{"t":22.0,"hi":0.0018,"lo":-0.0018}],
"Cil_spk":[{"t":1.88,"hi":0.006,"lo":-0.0084},{"t":2.393,"hi":0.0084,"lo":-0.006},{"t":2.821,"hi":0.0072,"lo":-0.0096},{"t":3.333,"hi":0.0096,"lo":-0.0072},{"t":3.846,"hi":0.006,"lo":-0.0084},{"t":4.359,"hi":0.0084,"lo":-0.006},{"t":4.872,"hi":0.0072,"lo":-0.0096},{"t":5.299,"hi":0.0108,"lo":-0.0072},{"t":5.812,"hi":0.006,"lo":-0.0084},{"t":6.325,"hi":0.0084,"lo":-0.0108},{"t":6.838,"hi":0.0072,"lo":-0.0072},{"t":7.35,"hi":0.0096,"lo":-0.0084},{"t":7.863,"hi":0.006,"lo":-0.0096},{"t":8.376,"hi":0.0072,"lo":-0.0072},{"t":8.889,"hi":0.0108,"lo":-0.0084},{"t":9.402,"hi":0.0084,"lo":-0.0108},{"t":9.915,"hi":0.006,"lo":-0.0072},{"t":10.427,"hi":0.0096,"lo":-0.0096},{"t":10.94,"hi":0.0072,"lo":-0.0084},{"t":11.453,"hi":0.012,"lo":-0.0072},{"t":11.966,"hi":0.0084,"lo":-0.0108},{"t":12.479,"hi":0.0072,"lo":-0.0084},{"t":12.991,"hi":0.0096,"lo":-0.0096},{"t":13.504,"hi":0.006,"lo":-0.0072},{"t":14.017,"hi":0.0084,"lo":-0.0084},{"t":14.53,"hi":0.0108,"lo":-0.0072},{"t":15.043,"hi":0.0072,"lo":-0.0096},{"t":15.556,"hi":0.0096,"lo":-0.0084},{"t":16.068,"hi":0.012,"lo":-0.0108},{"t":16.581,"hi":0.0084,"lo":-0.0072},{"t":17.094,"hi":0.0072,"lo":-0.0096},{"t":17.607,"hi":0.0096,"lo":-0.0084},{"t":18.12,"hi":0.006,"lo":-0.012},{"t":18.376,"hi":0.0048,"lo":-0.0145},{"t":18.632,"hi":0.006,"lo":-0.0096},{"t":19.145,"hi":0.0084,"lo":-0.0084},{"t":19.658,"hi":0.0072,"lo":-0.0072},{"t":20.171,"hi":0.0096,"lo":-0.0096},{"t":20.684,"hi":0.0072,"lo":-0.0084},{"t":21.197,"hi":0.0084,"lo":-0.0072},{"t":21.709,"hi":0.006,"lo":-0.0096}],
"Ci_sbl":[{"t":23.077,"v1":-0.004,"v2":0.016,"tn":24.077,"tu":25.496,"vm":0.006,"num":"0.02","unit":"mV"}],
"Ci_tb":[{"t1":1.769,"t2":2.769,"v":-0.0341,"tl":2.282,"vl":-0.0461,"label":"1 s"}]
},
"vconcat":[
{"width":750,"height":255,"resolve":{"scale":{"y":"independent"}},"layer":[
 {"layer":[
  {"data":{"name":"Ag"},"mark":{"type":"line","strokeWidth":1.3},"encoding":{"x":{"field":"t","type":"quantitative","scale":{"domain":[-5.359,43.66],"nice":false,"zero":false},"axis":null},"y":{"field":"v","type":"quantitative","scale":{"domain":[-0.04389,0.09778],"nice":false,"zero":false},"axis":null}}},
  {"data":{"name":"A_arrows"},"mark":{"type":"rule","strokeWidth":2.2},"encoding":{"x":{"field":"t1","type":"quantitative","scale":{"domain":[-5.359,43.66],"nice":false,"zero":false},"axis":null},"x2":{"field":"t2"},"y":{"field":"v","type":"quantitative","scale":{"domain":[-0.04389,0.09778],"nice":false,"zero":false},"axis":null}}},
  {"data":{"name":"A_arrows"},"mark":{"type":"point","shape":"triangle-left","filled":true,"size":90,"opacity":1,"color":"#000","xOffset":5},"encoding":{"x":{"field":"t1","type":"quantitative","scale":{"domain":[-5.359,43.66],"nice":false,"zero":false},"axis":null},"y":{"field":"v","type":"quantitative","scale":{"domain":[-0.04389,0.09778],"nice":false,"zero":false},"axis":null}}},
  {"data":{"name":"A_arrows"},"mark":{"type":"point","shape":"triangle-right","filled":true,"size":90,"opacity":1,"color":"#000","xOffset":-5},"encoding":{"x":{"field":"t2","type":"quantitative","scale":{"domain":[-5.359,43.66],"nice":false,"zero":false},"axis":null},"y":{"field":"v","type":"quantitative","scale":{"domain":[-0.04389,0.09778],"nice":false,"zero":false},"axis":null}}},
  {"data":{"name":"A_labels"},"mark":{"type":"text","fontSize":14.5,"baseline":"middle"},"encoding":{"x":{"field":"t","type":"quantitative","scale":{"domain":[-5.359,43.66],"nice":false,"zero":false},"axis":null},"y":{"field":"v","type":"quantitative","scale":{"domain":[-0.04389,0.09778],"nice":false,"zero":false},"axis":null},"text":{"field":"label"}}},
  {"data":{"name":"A_title"},"mark":{"type":"text","fontSize":18.5,"baseline":"middle"},"encoding":{"x":{"field":"t","type":"quantitative","scale":{"domain":[-5.359,43.66],"nice":false,"zero":false},"axis":null},"y":{"field":"v","type":"quantitative","scale":{"domain":[-0.04389,0.09778],"nice":false,"zero":false},"axis":null},"text":{"field":"label"}}},
  {"data":{"name":"A_letter"},"mark":{"type":"text","font":"Liberation Sans","fontWeight":"bold","fontSize":19,"baseline":"middle"},"encoding":{"x":{"field":"t","type":"quantitative","scale":{"domain":[-5.359,43.66],"nice":false,"zero":false},"axis":null},"y":{"field":"v","type":"quantitative","scale":{"domain":[-0.04389,0.09778],"nice":false,"zero":false},"axis":null},"text":{"field":"label"}}},
  {"data":{"name":"A_uline"},"mark":{"type":"rule","strokeWidth":1.2},"encoding":{"x":{"field":"t1","type":"quantitative","scale":{"domain":[-5.359,43.66],"nice":false,"zero":false},"axis":null},"x2":{"field":"t2"},"y":{"field":"v","type":"quantitative","scale":{"domain":[-0.04389,0.09778],"nice":false,"zero":false},"axis":null}}},
  {"data":{"name":"A_segs"},"mark":{"type":"rule","strokeWidth":2},"encoding":{"x":{"field":"t1","type":"quantitative","scale":{"domain":[-5.359,43.66],"nice":false,"zero":false},"axis":null},"x2":{"field":"t2"},"y":{"field":"v","type":"quantitative","scale":{"domain":[-0.04389,0.09778],"nice":false,"zero":false},"axis":null}}},
  {"data":{"name":"A_segs"},"mark":{"type":"text","fontSize":13,"baseline":"middle"},"encoding":{"x":{"field":"tl","type":"quantitative","scale":{"domain":[-5.359,43.66],"nice":false,"zero":false},"axis":null},"y":{"field":"vl","type":"quantitative","scale":{"domain":[-0.04389,0.09778],"nice":false,"zero":false},"axis":null},"text":{"field":"label"}}},
  {"data":{"name":"A_rotL"},"mark":{"type":"text","fontSize":13.5,"angle":270,"baseline":"middle"},"encoding":{"x":{"field":"t","type":"quantitative","scale":{"domain":[-5.359,43.66],"nice":false,"zero":false},"axis":null},"y":{"field":"v","type":"quantitative","scale":{"domain":[-0.04389,0.09778],"nice":false,"zero":false},"axis":null},"text":{"field":"label"}}},
  {"data":{"name":"A_sbg"},"mark":{"type":"rule","strokeWidth":1.5},"encoding":{"x":{"field":"t","type":"quantitative","scale":{"domain":[-5.359,43.66],"nice":false,"zero":false},"axis":null},"y":{"field":"v1","type":"quantitative","scale":{"domain":[-0.04389,0.09778],"nice":false,"zero":false},"axis":null},"y2":{"field":"v2"}}},
  {"data":{"name":"A_sbg"},"mark":{"type":"text","fontSize":10.5,"angle":270,"baseline":"middle"},"encoding":{"x":{"field":"tn","type":"quantitative","scale":{"domain":[-5.359,43.66],"nice":false,"zero":false},"axis":null},"y":{"field":"vm","type":"quantitative","scale":{"domain":[-0.04389,0.09778],"nice":false,"zero":false},"axis":null},"text":{"field":"num"}}},
  {"data":{"name":"A_sbg"},"mark":{"type":"text","fontSize":10.5,"angle":270,"baseline":"middle"},"encoding":{"x":{"field":"tu","type":"quantitative","scale":{"domain":[-5.359,43.66],"nice":false,"zero":false},"axis":null},"y":{"field":"vm","type":"quantitative","scale":{"domain":[-0.04389,0.09778],"nice":false,"zero":false},"axis":null},"text":{"field":"unit"}}}
 ]},
 {"layer":[
  {"data":{"name":"Al_env"},"mark":{"type":"area"},"encoding":{"x":{"field":"t","type":"quantitative","scale":{"domain":[-5.359,43.66],"nice":false,"zero":false},"axis":null},"y":{"field":"hi","type":"quantitative","scale":{"domain":[-0.0265,0.101],"nice":false,"zero":false},"axis":null},"y2":{"field":"lo"}}},
  {"data":{"name":"Al_spk"},"mark":{"type":"rule","strokeWidth":1.2},"encoding":{"x":{"field":"t","type":"quantitative","scale":{"domain":[-5.359,43.66],"nice":false,"zero":false},"axis":null},"y":{"field":"hi","type":"quantitative","scale":{"domain":[-0.0265,0.101],"nice":false,"zero":false},"axis":null},"y2":{"field":"lo"}}},
  {"data":{"name":"A_sbl"},"mark":{"type":"rule","strokeWidth":1.5},"encoding":{"x":{"field":"t","type":"quantitative","scale":{"domain":[-5.359,43.66],"nice":false,"zero":false},"axis":null},"y":{"field":"v1","type":"quantitative","scale":{"domain":[-0.0265,0.101],"nice":false,"zero":false},"axis":null},"y2":{"field":"v2"}}},
  {"data":{"name":"A_sbl"},"mark":{"type":"text","fontSize":10.5,"angle":270,"baseline":"middle"},"encoding":{"x":{"field":"tn","type":"quantitative","scale":{"domain":[-5.359,43.66],"nice":false,"zero":false},"axis":null},"y":{"field":"vm","type":"quantitative","scale":{"domain":[-0.0265,0.101],"nice":false,"zero":false},"axis":null},"text":{"field":"num"}}},
  {"data":{"name":"A_sbl"},"mark":{"type":"text","fontSize":10.5,"angle":270,"baseline":"middle"},"encoding":{"x":{"field":"tu","type":"quantitative","scale":{"domain":[-5.359,43.66],"nice":false,"zero":false},"axis":null},"y":{"field":"vm","type":"quantitative","scale":{"domain":[-0.0265,0.101],"nice":false,"zero":false},"axis":null},"text":{"field":"unit"}}},
  {"data":{"name":"A_tb"},"mark":{"type":"rule","strokeWidth":1.5},"encoding":{"x":{"field":"t1","type":"quantitative","scale":{"domain":[-5.359,43.66],"nice":false,"zero":false},"axis":null},"x2":{"field":"t2"},"y":{"field":"v","type":"quantitative","scale":{"domain":[-0.0265,0.101],"nice":false,"zero":false},"axis":null}}},
  {"data":{"name":"A_tb"},"mark":{"type":"text","fontSize":13,"fontWeight":"bold","baseline":"middle"},"encoding":{"x":{"field":"tl","type":"quantitative","scale":{"domain":[-5.359,43.66],"nice":false,"zero":false},"axis":null},"y":{"field":"vl","type":"quantitative","scale":{"domain":[-0.0265,0.101],"nice":false,"zero":false},"axis":null},"text":{"field":"label"}}}
 ]}
]},
{"width":750,"height":145,"resolve":{"scale":{"x":"independent","y":"independent"}},"layer":[
  {"layer":[
   {"data":{"name":"Iag"},"mark":{"type":"line","strokeWidth":1},"encoding":{"x":{"field":"t","type":"quantitative","scale":{"domain":[-4.706,39.412],"nice":false,"zero":false},"axis":null},"y":{"field":"v","type":"quantitative","scale":{"domain":[-0.05217,0.07391],"nice":false,"zero":false},"axis":null}}},
   {"data":{"name":"Ia_arrows"},"mark":{"type":"rule","strokeWidth":2.2},"encoding":{"x":{"field":"t1","type":"quantitative","scale":{"domain":[-4.706,39.412],"nice":false,"zero":false},"axis":null},"x2":{"field":"t2"},"y":{"field":"v","type":"quantitative","scale":{"domain":[-0.05217,0.07391],"nice":false,"zero":false},"axis":null}}},
   {"data":{"name":"Ia_arrows"},"mark":{"type":"point","shape":"triangle-left","filled":true,"size":90,"opacity":1,"color":"#000","xOffset":5},"encoding":{"x":{"field":"t1","type":"quantitative","scale":{"domain":[-4.706,39.412],"nice":false,"zero":false},"axis":null},"y":{"field":"v","type":"quantitative","scale":{"domain":[-0.05217,0.07391],"nice":false,"zero":false},"axis":null}}},
   {"data":{"name":"Ia_arrows"},"mark":{"type":"point","shape":"triangle-right","filled":true,"size":90,"opacity":1,"color":"#000","xOffset":-5},"encoding":{"x":{"field":"t2","type":"quantitative","scale":{"domain":[-4.706,39.412],"nice":false,"zero":false},"axis":null},"y":{"field":"v","type":"quantitative","scale":{"domain":[-0.05217,0.07391],"nice":false,"zero":false},"axis":null}}},
   {"data":{"name":"Ia_labels"},"mark":{"type":"text","fontSize":14.5,"baseline":"middle"},"encoding":{"x":{"field":"t","type":"quantitative","scale":{"domain":[-4.706,39.412],"nice":false,"zero":false},"axis":null},"y":{"field":"v","type":"quantitative","scale":{"domain":[-0.05217,0.07391],"nice":false,"zero":false},"axis":null},"text":{"field":"label"}}},
   {"data":{"name":"Ia_cap"},"mark":{"type":"text","fontSize":13,"baseline":"middle"},"encoding":{"x":{"field":"t","type":"quantitative","scale":{"domain":[-4.706,39.412],"nice":false,"zero":false},"axis":null},"y":{"field":"v","type":"quantitative","scale":{"domain":[-0.05217,0.07391],"nice":false,"zero":false},"axis":null},"text":{"field":"label"}}},
   {"data":{"name":"Ia_letter"},"mark":{"type":"text","fontSize":13,"align":"left","baseline":"middle"},"encoding":{"x":{"field":"t","type":"quantitative","scale":{"domain":[-4.706,39.412],"nice":false,"zero":false},"axis":null},"y":{"field":"v","type":"quantitative","scale":{"domain":[-0.05217,0.07391],"nice":false,"zero":false},"axis":null},"text":{"field":"label"}}},
   {"data":{"name":"Ia_star"},"mark":{"type":"text","fontSize":17,"fontWeight":"bold","baseline":"middle","dy":4},"encoding":{"x":{"field":"t","type":"quantitative","scale":{"domain":[-4.706,39.412],"nice":false,"zero":false},"axis":null},"y":{"field":"v","type":"quantitative","scale":{"domain":[-0.05217,0.07391],"nice":false,"zero":false},"axis":null},"text":{"field":"label"}}}
  ]},
  {"layer":[
   {"data":{"name":"Ial_env"},"mark":{"type":"area"},"encoding":{"x":{"field":"t","type":"quantitative","scale":{"domain":[-4.706,39.412],"nice":false,"zero":false},"axis":null},"y":{"field":"hi","type":"quantitative","scale":{"domain":[-0.04455,0.08727],"nice":false,"zero":false},"axis":null},"y2":{"field":"lo"}}},
   {"data":{"name":"Ial_spk"},"mark":{"type":"rule","strokeWidth":1},"encoding":{"x":{"field":"t","type":"quantitative","scale":{"domain":[-4.706,39.412],"nice":false,"zero":false},"axis":null},"y":{"field":"hi","type":"quantitative","scale":{"domain":[-0.04455,0.08727],"nice":false,"zero":false},"axis":null},"y2":{"field":"lo"}}}
  ]},
  {"layer":[
   {"data":{"name":"Ibg"},"mark":{"type":"line","strokeWidth":1},"encoding":{"x":{"field":"t","type":"quantitative","scale":{"domain":[-18.882,25.235],"nice":false,"zero":false},"axis":null},"y":{"field":"v","type":"quantitative","scale":{"domain":[-0.05217,0.07391],"nice":false,"zero":false},"axis":null}}},
   {"data":{"name":"Ib_letter"},"mark":{"type":"text","fontSize":13,"align":"left","baseline":"middle"},"encoding":{"x":{"field":"t","type":"quantitative","scale":{"domain":[-18.882,25.235],"nice":false,"zero":false},"axis":null},"y":{"field":"v","type":"quantitative","scale":{"domain":[-0.05217,0.07391],"nice":false,"zero":false},"axis":null},"text":{"field":"label"}}}
  ]},
  {"layer":[
   {"data":{"name":"Ibl_env"},"mark":{"type":"area"},"encoding":{"x":{"field":"t","type":"quantitative","scale":{"domain":[-18.882,25.235],"nice":false,"zero":false},"axis":null},"y":{"field":"hi","type":"quantitative","scale":{"domain":[-0.04273,0.08909],"nice":false,"zero":false},"axis":null},"y2":{"field":"lo"}}},
   {"data":{"name":"Ibl_spk"},"mark":{"type":"rule","strokeWidth":1},"encoding":{"x":{"field":"t","type":"quantitative","scale":{"domain":[-18.882,25.235],"nice":false,"zero":false},"axis":null},"y":{"field":"hi","type":"quantitative","scale":{"domain":[-0.04273,0.08909],"nice":false,"zero":false},"axis":null},"y2":{"field":"lo"}}}
  ]},
  {"layer":[
   {"data":{"name":"Icg"},"mark":{"type":"line","strokeWidth":1},"encoding":{"x":{"field":"t","type":"quantitative","scale":{"domain":[-29.412,14.706],"nice":false,"zero":false},"axis":null},"y":{"field":"v","type":"quantitative","scale":{"domain":[-0.05217,0.07391],"nice":false,"zero":false},"axis":null}}},
   {"data":{"name":"Ic_letter"},"mark":{"type":"text","fontSize":13,"align":"left","baseline":"middle"},"encoding":{"x":{"field":"t","type":"quantitative","scale":{"domain":[-29.412,14.706],"nice":false,"zero":false},"axis":null},"y":{"field":"v","type":"quantitative","scale":{"domain":[-0.05217,0.07391],"nice":false,"zero":false},"axis":null},"text":{"field":"label"}}},
   {"data":{"name":"Ic_sbg"},"mark":{"type":"rule","strokeWidth":1.5},"encoding":{"x":{"field":"t","type":"quantitative","scale":{"domain":[-29.412,14.706],"nice":false,"zero":false},"axis":null},"y":{"field":"v1","type":"quantitative","scale":{"domain":[-0.05217,0.07391],"nice":false,"zero":false},"axis":null},"y2":{"field":"v2"}}},
   {"data":{"name":"Ic_sbg"},"mark":{"type":"text","fontSize":12.5,"angle":270,"baseline":"middle"},"encoding":{"x":{"field":"tn","type":"quantitative","scale":{"domain":[-29.412,14.706],"nice":false,"zero":false},"axis":null},"y":{"field":"vm","type":"quantitative","scale":{"domain":[-0.05217,0.07391],"nice":false,"zero":false},"axis":null},"text":{"field":"num"}}},
   {"data":{"name":"Ic_sbg"},"mark":{"type":"text","fontSize":12.5,"angle":270,"baseline":"middle"},"encoding":{"x":{"field":"tu","type":"quantitative","scale":{"domain":[-29.412,14.706],"nice":false,"zero":false},"axis":null},"y":{"field":"vm","type":"quantitative","scale":{"domain":[-0.05217,0.07391],"nice":false,"zero":false},"axis":null},"text":{"field":"unit"}}}
  ]},
  {"layer":[
   {"data":{"name":"Icl_env"},"mark":{"type":"area"},"encoding":{"x":{"field":"t","type":"quantitative","scale":{"domain":[-29.412,14.706],"nice":false,"zero":false},"axis":null},"y":{"field":"hi","type":"quantitative","scale":{"domain":[-0.03955,0.09227],"nice":false,"zero":false},"axis":null},"y2":{"field":"lo"}}},
   {"data":{"name":"Icl_spk"},"mark":{"type":"rule","strokeWidth":1},"encoding":{"x":{"field":"t","type":"quantitative","scale":{"domain":[-29.412,14.706],"nice":false,"zero":false},"axis":null},"y":{"field":"hi","type":"quantitative","scale":{"domain":[-0.03955,0.09227],"nice":false,"zero":false},"axis":null},"y2":{"field":"lo"}}},
   {"data":{"name":"Ic_sbl"},"mark":{"type":"rule","strokeWidth":1.5},"encoding":{"x":{"field":"t","type":"quantitative","scale":{"domain":[-29.412,14.706],"nice":false,"zero":false},"axis":null},"y":{"field":"v1","type":"quantitative","scale":{"domain":[-0.03955,0.09227],"nice":false,"zero":false},"axis":null},"y2":{"field":"v2"}}},
   {"data":{"name":"Ic_sbl"},"mark":{"type":"text","fontSize":12.5,"angle":270,"baseline":"middle"},"encoding":{"x":{"field":"tn","type":"quantitative","scale":{"domain":[-29.412,14.706],"nice":false,"zero":false},"axis":null},"y":{"field":"vm","type":"quantitative","scale":{"domain":[-0.03955,0.09227],"nice":false,"zero":false},"axis":null},"text":{"field":"num"}}},
   {"data":{"name":"Ic_sbl"},"mark":{"type":"text","fontSize":12.5,"angle":270,"baseline":"middle"},"encoding":{"x":{"field":"tu","type":"quantitative","scale":{"domain":[-29.412,14.706],"nice":false,"zero":false},"axis":null},"y":{"field":"vm","type":"quantitative","scale":{"domain":[-0.03955,0.09227],"nice":false,"zero":false},"axis":null},"text":{"field":"unit"}}},
   {"data":{"name":"Ic_tb"},"mark":{"type":"rule","strokeWidth":1.5},"encoding":{"x":{"field":"t1","type":"quantitative","scale":{"domain":[-29.412,14.706],"nice":false,"zero":false},"axis":null},"x2":{"field":"t2"},"y":{"field":"v","type":"quantitative","scale":{"domain":[-0.03955,0.09227],"nice":false,"zero":false},"axis":null}}},
   {"data":{"name":"Ic_tb"},"mark":{"type":"text","fontSize":13,"fontWeight":"bold","baseline":"middle"},"encoding":{"x":{"field":"tl","type":"quantitative","scale":{"domain":[-29.412,14.706],"nice":false,"zero":false},"axis":null},"y":{"field":"vl","type":"quantitative","scale":{"domain":[-0.03955,0.09227],"nice":false,"zero":false},"axis":null},"text":{"field":"label"}}}
  ]}
]},
{"width":750,"height":321,"resolve":{"scale":{"x":"independent","y":"independent"}},"layer":[
  {"layer":[
   {"data":{"name":"Bg"},"mark":{"type":"line","strokeWidth":1.1},"encoding":{"x":{"field":"t","type":"quantitative","scale":{"domain":[-4.706,83.529],"nice":false,"zero":false},"axis":null},"y":{"field":"v","type":"quantitative","scale":{"domain":[-0.1877,0.1333],"nice":false,"zero":false},"axis":null}}},
   {"data":{"name":"B_letter"},"mark":{"type":"text","font":"Liberation Sans","fontWeight":"bold","fontSize":19,"baseline":"middle"},"encoding":{"x":{"field":"t","type":"quantitative","scale":{"domain":[-4.706,83.529],"nice":false,"zero":false},"axis":null},"y":{"field":"v","type":"quantitative","scale":{"domain":[-0.1877,0.1333],"nice":false,"zero":false},"axis":null},"text":{"field":"label"}}},
   {"data":{"name":"B_title"},"mark":{"type":"text","fontSize":18.5,"baseline":"middle"},"encoding":{"x":{"field":"t","type":"quantitative","scale":{"domain":[-4.706,83.529],"nice":false,"zero":false},"axis":null},"y":{"field":"v","type":"quantitative","scale":{"domain":[-0.1877,0.1333],"nice":false,"zero":false},"axis":null},"text":{"field":"label"}}},
   {"data":{"name":"B_uline"},"mark":{"type":"rule","strokeWidth":1.2},"encoding":{"x":{"field":"t1","type":"quantitative","scale":{"domain":[-4.706,83.529],"nice":false,"zero":false},"axis":null},"x2":{"field":"t2"},"y":{"field":"v","type":"quantitative","scale":{"domain":[-0.1877,0.1333],"nice":false,"zero":false},"axis":null}}},
   {"data":{"name":"B_box"},"mark":{"type":"rect","fill":"transparent","stroke":"#000","strokeWidth":1.2},"encoding":{"x":{"field":"t1","type":"quantitative","scale":{"domain":[-4.706,83.529],"nice":false,"zero":false},"axis":null},"x2":{"field":"t2"},"y":{"field":"v1","type":"quantitative","scale":{"domain":[-0.1877,0.1333],"nice":false,"zero":false},"axis":null},"y2":{"field":"v2"}}},
   {"data":{"name":"B_rotL"},"mark":{"type":"text","fontSize":13.5,"angle":270,"baseline":"middle"},"encoding":{"x":{"field":"t","type":"quantitative","scale":{"domain":[-4.706,83.529],"nice":false,"zero":false},"axis":null},"y":{"field":"v","type":"quantitative","scale":{"domain":[-0.1877,0.1333],"nice":false,"zero":false},"axis":null},"text":{"field":"label"}}},
   {"data":{"name":"B_sbg"},"mark":{"type":"rule","strokeWidth":1.5},"encoding":{"x":{"field":"t","type":"quantitative","scale":{"domain":[-4.706,83.529],"nice":false,"zero":false},"axis":null},"y":{"field":"v1","type":"quantitative","scale":{"domain":[-0.1877,0.1333],"nice":false,"zero":false},"axis":null},"y2":{"field":"v2"}}},
   {"data":{"name":"B_sbg"},"mark":{"type":"text","fontSize":12.5,"angle":270,"baseline":"middle"},"encoding":{"x":{"field":"tn","type":"quantitative","scale":{"domain":[-4.706,83.529],"nice":false,"zero":false},"axis":null},"y":{"field":"vm","type":"quantitative","scale":{"domain":[-0.1877,0.1333],"nice":false,"zero":false},"axis":null},"text":{"field":"num"}}},
   {"data":{"name":"B_sbg"},"mark":{"type":"text","fontSize":12.5,"angle":270,"baseline":"middle"},"encoding":{"x":{"field":"tu","type":"quantitative","scale":{"domain":[-4.706,83.529],"nice":false,"zero":false},"axis":null},"y":{"field":"vm","type":"quantitative","scale":{"domain":[-0.1877,0.1333],"nice":false,"zero":false},"axis":null},"text":{"field":"unit"}}}
  ]},
  {"layer":[
   {"data":{"name":"Bl_env"},"mark":{"type":"area"},"encoding":{"x":{"field":"t","type":"quantitative","scale":{"domain":[-4.706,83.529],"nice":false,"zero":false},"axis":null},"y":{"field":"hi","type":"quantitative","scale":{"domain":[-0.10147,0.08735],"nice":false,"zero":false},"axis":null},"y2":{"field":"lo"}}},
   {"data":{"name":"Bl_spk"},"mark":{"type":"rule","strokeWidth":1.1},"encoding":{"x":{"field":"t","type":"quantitative","scale":{"domain":[-4.706,83.529],"nice":false,"zero":false},"axis":null},"y":{"field":"hi","type":"quantitative","scale":{"domain":[-0.10147,0.08735],"nice":false,"zero":false},"axis":null},"y2":{"field":"lo"}}},
   {"data":{"name":"B_sbl"},"mark":{"type":"rule","strokeWidth":1.5},"encoding":{"x":{"field":"t","type":"quantitative","scale":{"domain":[-4.706,83.529],"nice":false,"zero":false},"axis":null},"y":{"field":"v1","type":"quantitative","scale":{"domain":[-0.10147,0.08735],"nice":false,"zero":false},"axis":null},"y2":{"field":"v2"}}},
   {"data":{"name":"B_sbl"},"mark":{"type":"text","fontSize":12.5,"angle":270,"baseline":"middle"},"encoding":{"x":{"field":"tn","type":"quantitative","scale":{"domain":[-4.706,83.529],"nice":false,"zero":false},"axis":null},"y":{"field":"vm","type":"quantitative","scale":{"domain":[-0.10147,0.08735],"nice":false,"zero":false},"axis":null},"text":{"field":"num"}}},
   {"data":{"name":"B_sbl"},"mark":{"type":"text","fontSize":12.5,"angle":270,"baseline":"middle"},"encoding":{"x":{"field":"tu","type":"quantitative","scale":{"domain":[-4.706,83.529],"nice":false,"zero":false},"axis":null},"y":{"field":"vm","type":"quantitative","scale":{"domain":[-0.10147,0.08735],"nice":false,"zero":false},"axis":null},"text":{"field":"unit"}}},
   {"data":{"name":"B_tb"},"mark":{"type":"rule","strokeWidth":1.5},"encoding":{"x":{"field":"t1","type":"quantitative","scale":{"domain":[-4.706,83.529],"nice":false,"zero":false},"axis":null},"x2":{"field":"t2"},"y":{"field":"v","type":"quantitative","scale":{"domain":[-0.10147,0.08735],"nice":false,"zero":false},"axis":null}}},
   {"data":{"name":"B_tb"},"mark":{"type":"text","fontSize":13,"fontWeight":"bold","baseline":"middle"},"encoding":{"x":{"field":"tl","type":"quantitative","scale":{"domain":[-4.706,83.529],"nice":false,"zero":false},"axis":null},"y":{"field":"vl","type":"quantitative","scale":{"domain":[-0.10147,0.08735],"nice":false,"zero":false},"axis":null},"text":{"field":"label"}}}
  ]},
  {"layer":[
   {"data":{"name":"Big"},"mark":{"type":"line","strokeWidth":1},"encoding":{"x":{"field":"t","type":"quantitative","scale":{"domain":[-2.723,22.277],"nice":false,"zero":false},"axis":null},"y":{"field":"v","type":"quantitative","scale":{"domain":[-0.1531,0.6112],"nice":false,"zero":false},"axis":null}}},
   {"data":{"name":"Bi_box"},"mark":{"type":"rect","fill":"transparent","stroke":"#000","strokeWidth":1.2},"encoding":{"x":{"field":"t1","type":"quantitative","scale":{"domain":[-2.723,22.277],"nice":false,"zero":false},"axis":null},"x2":{"field":"t2"},"y":{"field":"v1","type":"quantitative","scale":{"domain":[-0.1531,0.6112],"nice":false,"zero":false},"axis":null},"y2":{"field":"v2"}}},
   {"data":{"name":"Bi_star"},"mark":{"type":"text","fontSize":17,"fontWeight":"bold","baseline":"middle","dy":4},"encoding":{"x":{"field":"t","type":"quantitative","scale":{"domain":[-2.723,22.277],"nice":false,"zero":false},"axis":null},"y":{"field":"v","type":"quantitative","scale":{"domain":[-0.1531,0.6112],"nice":false,"zero":false},"axis":null},"text":{"field":"label"}}},
   {"data":{"name":"Bi_sbg"},"mark":{"type":"rule","strokeWidth":1.5},"encoding":{"x":{"field":"t","type":"quantitative","scale":{"domain":[-2.723,22.277],"nice":false,"zero":false},"axis":null},"y":{"field":"v1","type":"quantitative","scale":{"domain":[-0.1531,0.6112],"nice":false,"zero":false},"axis":null},"y2":{"field":"v2"}}},
   {"data":{"name":"Bi_sbg"},"mark":{"type":"text","fontSize":12.5,"angle":270,"baseline":"middle"},"encoding":{"x":{"field":"tn","type":"quantitative","scale":{"domain":[-2.723,22.277],"nice":false,"zero":false},"axis":null},"y":{"field":"vm","type":"quantitative","scale":{"domain":[-0.1531,0.6112],"nice":false,"zero":false},"axis":null},"text":{"field":"num"}}},
   {"data":{"name":"Bi_sbg"},"mark":{"type":"text","fontSize":12.5,"angle":270,"baseline":"middle"},"encoding":{"x":{"field":"tu","type":"quantitative","scale":{"domain":[-2.723,22.277],"nice":false,"zero":false},"axis":null},"y":{"field":"vm","type":"quantitative","scale":{"domain":[-0.1531,0.6112],"nice":false,"zero":false},"axis":null},"text":{"field":"unit"}}}
  ]},
  {"layer":[
   {"data":{"name":"Bil_env"},"mark":{"type":"area"},"encoding":{"x":{"field":"t","type":"quantitative","scale":{"domain":[-2.723,22.277],"nice":false,"zero":false},"axis":null},"y":{"field":"hi","type":"quantitative","scale":{"domain":[-0.0671,0.3609],"nice":false,"zero":false},"axis":null},"y2":{"field":"lo"}}},
   {"data":{"name":"Bil_spk"},"mark":{"type":"rule","strokeWidth":1},"encoding":{"x":{"field":"t","type":"quantitative","scale":{"domain":[-2.723,22.277],"nice":false,"zero":false},"axis":null},"y":{"field":"hi","type":"quantitative","scale":{"domain":[-0.0671,0.3609],"nice":false,"zero":false},"axis":null},"y2":{"field":"lo"}}},
   {"data":{"name":"Bi_sbl"},"mark":{"type":"rule","strokeWidth":1.5},"encoding":{"x":{"field":"t","type":"quantitative","scale":{"domain":[-2.723,22.277],"nice":false,"zero":false},"axis":null},"y":{"field":"v1","type":"quantitative","scale":{"domain":[-0.0671,0.3609],"nice":false,"zero":false},"axis":null},"y2":{"field":"v2"}}},
   {"data":{"name":"Bi_sbl"},"mark":{"type":"text","fontSize":12.5,"angle":270,"baseline":"middle"},"encoding":{"x":{"field":"tn","type":"quantitative","scale":{"domain":[-2.723,22.277],"nice":false,"zero":false},"axis":null},"y":{"field":"vm","type":"quantitative","scale":{"domain":[-0.0671,0.3609],"nice":false,"zero":false},"axis":null},"text":{"field":"num"}}},
   {"data":{"name":"Bi_sbl"},"mark":{"type":"text","fontSize":12.5,"angle":270,"baseline":"middle"},"encoding":{"x":{"field":"tu","type":"quantitative","scale":{"domain":[-2.723,22.277],"nice":false,"zero":false},"axis":null},"y":{"field":"vm","type":"quantitative","scale":{"domain":[-0.0671,0.3609],"nice":false,"zero":false},"axis":null},"text":{"field":"unit"}}},
   {"data":{"name":"Bi_tb"},"mark":{"type":"rule","strokeWidth":1.5},"encoding":{"x":{"field":"t1","type":"quantitative","scale":{"domain":[-2.723,22.277],"nice":false,"zero":false},"axis":null},"x2":{"field":"t2"},"y":{"field":"v","type":"quantitative","scale":{"domain":[-0.0671,0.3609],"nice":false,"zero":false},"axis":null}}},
   {"data":{"name":"Bi_tb"},"mark":{"type":"text","fontSize":13,"fontWeight":"bold","baseline":"middle"},"encoding":{"x":{"field":"tl","type":"quantitative","scale":{"domain":[-2.723,22.277],"nice":false,"zero":false},"axis":null},"y":{"field":"vl","type":"quantitative","scale":{"domain":[-0.0671,0.3609],"nice":false,"zero":false},"axis":null},"text":{"field":"label"}}}
  ]},
  {"layer":[
   {"data":{"name":"Cg"},"mark":{"type":"line","strokeWidth":1.1},"encoding":{"x":{"field":"t","type":"quantitative","scale":{"domain":[-96.429,82.143],"nice":false,"zero":false},"axis":null},"y":{"field":"v","type":"quantitative","scale":{"domain":[-0.1697,0.1221],"nice":false,"zero":false},"axis":null}}},
   {"data":{"name":"C_letter"},"mark":{"type":"text","font":"Liberation Sans","fontWeight":"bold","fontSize":19,"baseline":"middle"},"encoding":{"x":{"field":"t","type":"quantitative","scale":{"domain":[-96.429,82.143],"nice":false,"zero":false},"axis":null},"y":{"field":"v","type":"quantitative","scale":{"domain":[-0.1697,0.1221],"nice":false,"zero":false},"axis":null},"text":{"field":"label"}}},
   {"data":{"name":"C_title"},"mark":{"type":"text","fontSize":18.5,"baseline":"middle"},"encoding":{"x":{"field":"t","type":"quantitative","scale":{"domain":[-96.429,82.143],"nice":false,"zero":false},"axis":null},"y":{"field":"v","type":"quantitative","scale":{"domain":[-0.1697,0.1221],"nice":false,"zero":false},"axis":null},"text":{"field":"label"}}},
   {"data":{"name":"C_uline"},"mark":{"type":"rule","strokeWidth":1.2},"encoding":{"x":{"field":"t1","type":"quantitative","scale":{"domain":[-96.429,82.143],"nice":false,"zero":false},"axis":null},"x2":{"field":"t2"},"y":{"field":"v","type":"quantitative","scale":{"domain":[-0.1697,0.1221],"nice":false,"zero":false},"axis":null}}},
   {"data":{"name":"C_box"},"mark":{"type":"rect","fill":"transparent","stroke":"#000","strokeWidth":1.2},"encoding":{"x":{"field":"t1","type":"quantitative","scale":{"domain":[-96.429,82.143],"nice":false,"zero":false},"axis":null},"x2":{"field":"t2"},"y":{"field":"v1","type":"quantitative","scale":{"domain":[-0.1697,0.1221],"nice":false,"zero":false},"axis":null},"y2":{"field":"v2"}}},
   {"data":{"name":"C_sbg"},"mark":{"type":"rule","strokeWidth":1.5},"encoding":{"x":{"field":"t","type":"quantitative","scale":{"domain":[-96.429,82.143],"nice":false,"zero":false},"axis":null},"y":{"field":"v1","type":"quantitative","scale":{"domain":[-0.1697,0.1221],"nice":false,"zero":false},"axis":null},"y2":{"field":"v2"}}},
   {"data":{"name":"C_sbg"},"mark":{"type":"text","fontSize":12.5,"angle":270,"baseline":"middle"},"encoding":{"x":{"field":"tn","type":"quantitative","scale":{"domain":[-96.429,82.143],"nice":false,"zero":false},"axis":null},"y":{"field":"vm","type":"quantitative","scale":{"domain":[-0.1697,0.1221],"nice":false,"zero":false},"axis":null},"text":{"field":"num"}}},
   {"data":{"name":"C_sbg"},"mark":{"type":"text","fontSize":12.5,"angle":270,"baseline":"middle"},"encoding":{"x":{"field":"tu","type":"quantitative","scale":{"domain":[-96.429,82.143],"nice":false,"zero":false},"axis":null},"y":{"field":"vm","type":"quantitative","scale":{"domain":[-0.1697,0.1221],"nice":false,"zero":false},"axis":null},"text":{"field":"unit"}}}
  ]},
  {"layer":[
   {"data":{"name":"Cl_env"},"mark":{"type":"area"},"encoding":{"x":{"field":"t","type":"quantitative","scale":{"domain":[-96.429,82.143],"nice":false,"zero":false},"axis":null},"y":{"field":"hi","type":"quantitative","scale":{"domain":[-0.08715,0.07335],"nice":false,"zero":false},"axis":null},"y2":{"field":"lo"}}},
   {"data":{"name":"Cl_spk"},"mark":{"type":"rule","strokeWidth":1.1},"encoding":{"x":{"field":"t","type":"quantitative","scale":{"domain":[-96.429,82.143],"nice":false,"zero":false},"axis":null},"y":{"field":"hi","type":"quantitative","scale":{"domain":[-0.08715,0.07335],"nice":false,"zero":false},"axis":null},"y2":{"field":"lo"}}},
   {"data":{"name":"C_sbl"},"mark":{"type":"rule","strokeWidth":1.5},"encoding":{"x":{"field":"t","type":"quantitative","scale":{"domain":[-96.429,82.143],"nice":false,"zero":false},"axis":null},"y":{"field":"v1","type":"quantitative","scale":{"domain":[-0.08715,0.07335],"nice":false,"zero":false},"axis":null},"y2":{"field":"v2"}}},
   {"data":{"name":"C_sbl"},"mark":{"type":"text","fontSize":12.5,"angle":270,"baseline":"middle"},"encoding":{"x":{"field":"tn","type":"quantitative","scale":{"domain":[-96.429,82.143],"nice":false,"zero":false},"axis":null},"y":{"field":"vm","type":"quantitative","scale":{"domain":[-0.08715,0.07335],"nice":false,"zero":false},"axis":null},"text":{"field":"num"}}},
   {"data":{"name":"C_sbl"},"mark":{"type":"text","fontSize":12.5,"angle":270,"baseline":"middle"},"encoding":{"x":{"field":"tu","type":"quantitative","scale":{"domain":[-96.429,82.143],"nice":false,"zero":false},"axis":null},"y":{"field":"vm","type":"quantitative","scale":{"domain":[-0.08715,0.07335],"nice":false,"zero":false},"axis":null},"text":{"field":"unit"}}},
   {"data":{"name":"C_tb"},"mark":{"type":"rule","strokeWidth":1.5},"encoding":{"x":{"field":"t1","type":"quantitative","scale":{"domain":[-96.429,82.143],"nice":false,"zero":false},"axis":null},"x2":{"field":"t2"},"y":{"field":"v","type":"quantitative","scale":{"domain":[-0.08715,0.07335],"nice":false,"zero":false},"axis":null}}},
   {"data":{"name":"C_tb"},"mark":{"type":"text","fontSize":13,"fontWeight":"bold","baseline":"middle"},"encoding":{"x":{"field":"tl","type":"quantitative","scale":{"domain":[-96.429,82.143],"nice":false,"zero":false},"axis":null},"y":{"field":"vl","type":"quantitative","scale":{"domain":[-0.08715,0.07335],"nice":false,"zero":false},"axis":null},"text":{"field":"label"}}}
  ]},
  {"layer":[
   {"data":{"name":"Cig"},"mark":{"type":"line","strokeWidth":1},"encoding":{"x":{"field":"t","type":"quantitative","scale":{"domain":[-36.752,27.35],"nice":false,"zero":false},"axis":null},"y":{"field":"v","type":"quantitative","scale":{"domain":[-0.1236,0.5638],"nice":false,"zero":false},"axis":null}}},
   {"data":{"name":"Ci_box"},"mark":{"type":"rect","fill":"transparent","stroke":"#000","strokeWidth":1.2},"encoding":{"x":{"field":"t1","type":"quantitative","scale":{"domain":[-36.752,27.35],"nice":false,"zero":false},"axis":null},"x2":{"field":"t2"},"y":{"field":"v1","type":"quantitative","scale":{"domain":[-0.1236,0.5638],"nice":false,"zero":false},"axis":null},"y2":{"field":"v2"}}},
   {"data":{"name":"Ci_star"},"mark":{"type":"text","fontSize":17,"fontWeight":"bold","baseline":"middle","dy":4},"encoding":{"x":{"field":"t","type":"quantitative","scale":{"domain":[-36.752,27.35],"nice":false,"zero":false},"axis":null},"y":{"field":"v","type":"quantitative","scale":{"domain":[-0.1236,0.5638],"nice":false,"zero":false},"axis":null},"text":{"field":"label"}}},
   {"data":{"name":"Ci_sbg"},"mark":{"type":"rule","strokeWidth":1.5},"encoding":{"x":{"field":"t","type":"quantitative","scale":{"domain":[-36.752,27.35],"nice":false,"zero":false},"axis":null},"y":{"field":"v1","type":"quantitative","scale":{"domain":[-0.1236,0.5638],"nice":false,"zero":false},"axis":null},"y2":{"field":"v2"}}},
   {"data":{"name":"Ci_sbg"},"mark":{"type":"text","fontSize":12.5,"angle":270,"baseline":"middle"},"encoding":{"x":{"field":"tn","type":"quantitative","scale":{"domain":[-36.752,27.35],"nice":false,"zero":false},"axis":null},"y":{"field":"vm","type":"quantitative","scale":{"domain":[-0.1236,0.5638],"nice":false,"zero":false},"axis":null},"text":{"field":"num"}}},
   {"data":{"name":"Ci_sbg"},"mark":{"type":"text","fontSize":12.5,"angle":270,"baseline":"middle"},"encoding":{"x":{"field":"tu","type":"quantitative","scale":{"domain":[-36.752,27.35],"nice":false,"zero":false},"axis":null},"y":{"field":"vm","type":"quantitative","scale":{"domain":[-0.1236,0.5638],"nice":false,"zero":false},"axis":null},"text":{"field":"unit"}}}
  ]},
  {"layer":[
   {"data":{"name":"Cil_env"},"mark":{"type":"area"},"encoding":{"x":{"field":"t","type":"quantitative","scale":{"domain":[-36.752,27.35],"nice":false,"zero":false},"axis":null},"y":{"field":"hi","type":"quantitative","scale":{"domain":[-0.0554,0.3313],"nice":false,"zero":false},"axis":null},"y2":{"field":"lo"}}},
   {"data":{"name":"Cil_spk"},"mark":{"type":"rule","strokeWidth":1},"encoding":{"x":{"field":"t","type":"quantitative","scale":{"domain":[-36.752,27.35],"nice":false,"zero":false},"axis":null},"y":{"field":"hi","type":"quantitative","scale":{"domain":[-0.0554,0.3313],"nice":false,"zero":false},"axis":null},"y2":{"field":"lo"}}},
   {"data":{"name":"Ci_sbl"},"mark":{"type":"rule","strokeWidth":1.5},"encoding":{"x":{"field":"t","type":"quantitative","scale":{"domain":[-36.752,27.35],"nice":false,"zero":false},"axis":null},"y":{"field":"v1","type":"quantitative","scale":{"domain":[-0.0554,0.3313],"nice":false,"zero":false},"axis":null},"y2":{"field":"v2"}}},
   {"data":{"name":"Ci_sbl"},"mark":{"type":"text","fontSize":12.5,"angle":270,"baseline":"middle"},"encoding":{"x":{"field":"tn","type":"quantitative","scale":{"domain":[-36.752,27.35],"nice":false,"zero":false},"axis":null},"y":{"field":"vm","type":"quantitative","scale":{"domain":[-0.0554,0.3313],"nice":false,"zero":false},"axis":null},"text":{"field":"num"}}},
   {"data":{"name":"Ci_sbl"},"mark":{"type":"text","fontSize":12.5,"angle":270,"baseline":"middle"},"encoding":{"x":{"field":"tu","type":"quantitative","scale":{"domain":[-36.752,27.35],"nice":false,"zero":false},"axis":null},"y":{"field":"vm","type":"quantitative","scale":{"domain":[-0.0554,0.3313],"nice":false,"zero":false},"axis":null},"text":{"field":"unit"}}},
   {"data":{"name":"Ci_tb"},"mark":{"type":"rule","strokeWidth":1.5},"encoding":{"x":{"field":"t1","type":"quantitative","scale":{"domain":[-36.752,27.35],"nice":false,"zero":false},"axis":null},"x2":{"field":"t2"},"y":{"field":"v","type":"quantitative","scale":{"domain":[-0.0554,0.3313],"nice":false,"zero":false},"axis":null}}},
   {"data":{"name":"Ci_tb"},"mark":{"type":"text","fontSize":13,"fontWeight":"bold","baseline":"middle"},"encoding":{"x":{"field":"tl","type":"quantitative","scale":{"domain":[-36.752,27.35],"nice":false,"zero":false},"axis":null},"y":{"field":"vl","type":"quantitative","scale":{"domain":[-0.0554,0.3313],"nice":false,"zero":false},"axis":null},"text":{"field":"label"}}}
  ]}
]}
]
}
